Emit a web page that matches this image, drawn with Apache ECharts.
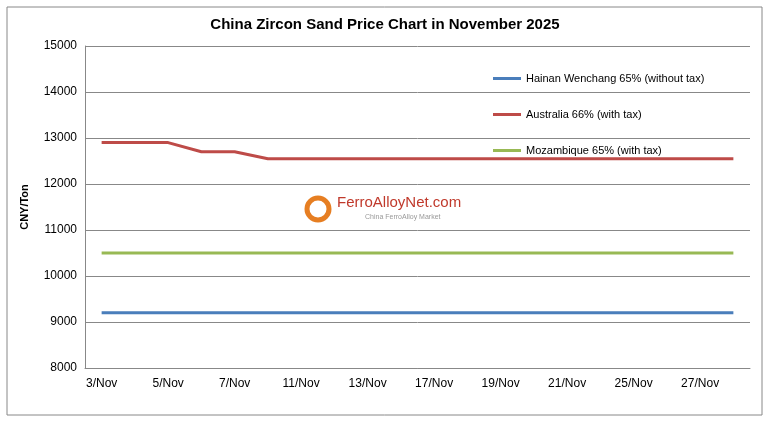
<!DOCTYPE html><html><head><meta charset="utf-8"><script src="https://cdn.jsdelivr.net/npm/echarts@6/dist/echarts.min.js"></script>
<style>html,body{margin:0;padding:0;background:#fff}#c{width:770px;height:421px}</style></head><body><div id="c"></div><script>
const categories=['3/Nov','4/Nov','5/Nov','6/Nov','7/Nov','10/Nov','11/Nov','12/Nov','13/Nov','14/Nov','17/Nov','18/Nov','19/Nov','20/Nov','21/Nov','24/Nov','25/Nov','26/Nov','27/Nov','28/Nov'];
const hainan=[9200,9200,9200,9200,9200,9200,9200,9200,9200,9200,9200,9200,9200,9200,9200,9200,9200,9200,9200,9200];
const australia=[12900,12900,12900,12700,12700,12550,12550,12550,12550,12550,12550,12550,12550,12550,12550,12550,12550,12550,12550,12550];
const mozambique=[10500,10500,10500,10500,10500,10500,10500,10500,10500,10500,10500,10500,10500,10500,10500,10500,10500,10500,10500,10500];
const c=echarts.init(document.getElementById('c'));
const F='Liberation Sans, Arial, sans-serif';
c.setOption({
 animation:false,
 title:{text:'China Zircon Sand Price Chart in November 2025',left:'center',top:12,textStyle:{fontFamily:F,fontSize:15,fontWeight:'bold',color:'#000'}},
 graphic:[
  {type:'rect',shape:{x:7,y:7,width:755,height:408},style:{fill:'none',stroke:'#888',lineWidth:1},z:-1},
  {type:'text',left:337,top:195,style:{text:'FerroAlloyNet.com',fontFamily:F,fontSize:15,fill:'#c0392b'}},
  {type:'text',left:365,top:214,style:{text:'China FerroAlloy Market',fontFamily:F,fontSize:7,fill:'#999'}},
  {type:'circle',shape:{cx:318,cy:209,r:11},style:{fill:'none',stroke:'#e67e22',lineWidth:5}}
 ],
 legend:{orient:'vertical',left:488,top:68,itemGap:25,itemWidth:28,itemHeight:3,icon:'rect',textStyle:{fontFamily:F,fontSize:11,color:'#000'},
   data:['Hainan Wenchang 65% (without tax)','Australia 66% (with tax)','Mozambique 65% (with tax)']},
 grid:{left:85,right:20,top:46,bottom:53},
 xAxis:{type:'category',data:categories,boundaryGap:true,axisLine:{lineStyle:{color:'#888'}},axisTick:{show:false},
   axisLabel:{interval:1,fontFamily:F,fontSize:12,color:'#000',margin:10}},
 yAxis:{type:'value',min:8000,max:15000,interval:1000,name:'CNY/Ton',nameLocation:'middle',nameGap:55,nameTextStyle:{fontFamily:F,fontSize:11,fontWeight:'bold',color:'#000'},
   axisLine:{show:true,lineStyle:{color:'#888'}},axisLabel:{fontFamily:F,fontSize:12,color:'#000',formatter:v=>String(v)},splitLine:{lineStyle:{color:'#888'}}},
 series:[
  {name:'Hainan Wenchang 65% (without tax)',type:'line',data:hainan,symbol:'none',lineStyle:{width:3,color:'#4a7ebb'},itemStyle:{color:'#4a7ebb'}},
  {name:'Australia 66% (with tax)',type:'line',data:australia,symbol:'none',lineStyle:{width:3,color:'#be4b48'},itemStyle:{color:'#be4b48'}},
  {name:'Mozambique 65% (with tax)',type:'line',data:mozambique,symbol:'none',lineStyle:{width:3,color:'#98b954'},itemStyle:{color:'#98b954'}}
 ]
});
</script></body></html>
